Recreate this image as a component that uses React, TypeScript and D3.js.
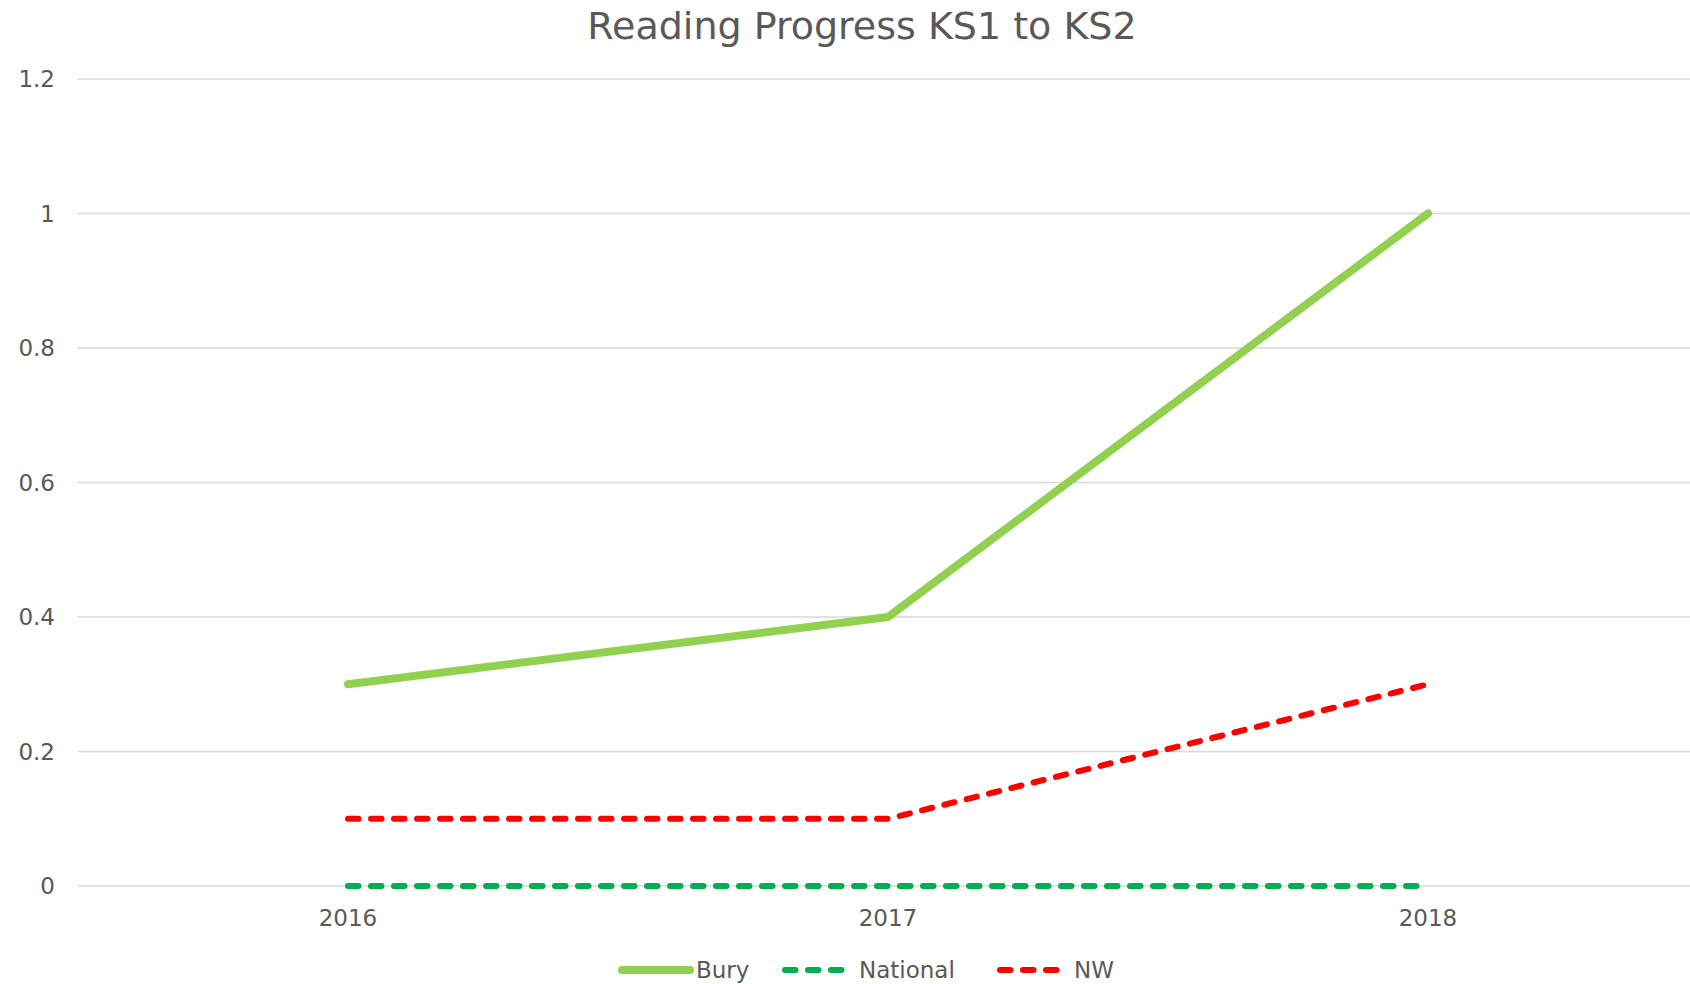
import React, { useEffect, useRef } from "react";
import * as d3 from "d3";

const years = ["2016", "2017", "2018"];
const bury = [0.3, 0.4, 1.0];
const national = [0, 0, 0];
const nw = [0.1, 0.1, 0.3];
const yTicks = [0, 0.2, 0.4, 0.6, 0.8, 1, 1.2];

const seriesNames = ["Bury", "National", "NW"];
const seriesColors = ["#92D050", "#00B050", "#FF0000"];

function App() {
  const svgRef = useRef<SVGSVGElement>(null);
  const width = 1690;
  const height = 984;

  useEffect(() => {
    const svg = d3.select(svgRef.current);
    svg.selectAll("*").remove();

    const font = "'DejaVu Sans', Verdana, sans-serif";
    const textColor = "#595959";

    const x = d3.scaleBand().domain(years).range([78, 1698]);
    const y = d3.scaleLinear().domain([0, 1.2]).range([886, 79]);
    const cx = (d: string) => (x(d) || 0) + x.bandwidth() / 2;

    // title
    svg.append("text")
      .attr("x", 862)
      .attr("y", 26)
      .attr("text-anchor", "middle")
      .attr("dominant-baseline", "central")
      .attr("font-family", font)
      .attr("font-size", 38)
      .attr("fill", textColor)
      .text("Reading Progress KS1 to KS2");

    // gridlines
    svg.append("g")
      .selectAll("line")
      .data(yTicks)
      .join("line")
      .attr("x1", 78)
      .attr("x2", 1698)
      .attr("y1", (d) => y(d))
      .attr("y2", (d) => y(d))
      .attr("stroke", "#D9D9D9")
      .attr("stroke-width", 1.5);

    // y labels
    svg.append("g")
      .selectAll("text")
      .data(yTicks)
      .join("text")
      .attr("x", 55)
      .attr("y", (d) => y(d))
      .attr("text-anchor", "end")
      .attr("dominant-baseline", "central")
      .attr("font-family", font)
      .attr("font-size", 23)
      .attr("fill", textColor)
      .text((d) => String(d));

    // x labels
    svg.append("g")
      .selectAll("text")
      .data(years)
      .join("text")
      .attr("x", (d) => cx(d))
      .attr("y", 918)
      .attr("text-anchor", "middle")
      .attr("dominant-baseline", "central")
      .attr("font-family", font)
      .attr("font-size", 23)
      .attr("fill", textColor)
      .text((d) => d);

    const line = d3.line<number>()
      .x((d, i) => cx(years[i]))
      .y((d) => y(d));

    const styles = [
      { w: 8, dash: null },
      { w: 6, dash: "10.5,12.5" },
      { w: 6, dash: "10.5,12.5" },
    ];

    [bury, national, nw].forEach((vals, k) => {
      svg.append("path")
        .datum(vals)
        .attr("fill", "none")
        .attr("stroke", seriesColors[k])
        .attr("stroke-width", styles[k].w)
        .attr("stroke-linecap", "round")
        .attr("stroke-linejoin", "round")
        .attr("stroke-dasharray", styles[k].dash)
        .attr("d", line);
    });

    // legend
    const legendItems = [
      { x1: 622, x2: 690, tx: 696 },
      { x1: 785, x2: 845, tx: 859 },
      { x1: 1000, x2: 1060, tx: 1074 },
    ];
    const legend = svg.append("g");
    seriesNames.forEach((name, k) => {
      const it = legendItems[k];
      legend.append("line")
        .attr("x1", it.x1)
        .attr("x2", it.x2)
        .attr("y1", 970)
        .attr("y2", 970)
        .attr("stroke", seriesColors[k])
        .attr("stroke-width", styles[k].w)
        .attr("stroke-linecap", "round")
        .attr("stroke-dasharray", styles[k].dash);
      legend.append("text")
        .attr("x", it.tx)
        .attr("y", 970)
        .attr("dominant-baseline", "central")
        .attr("font-family", font)
        .attr("font-size", 23)
        .attr("fill", textColor)
        .text(name);
    });
  }, []);

  return (
    <svg
      ref={svgRef}
      width={width}
      height={height}
      style={{ position: "absolute", left: 0, top: 0, background: "#fff" }}
    />
  );
}

export default App;
